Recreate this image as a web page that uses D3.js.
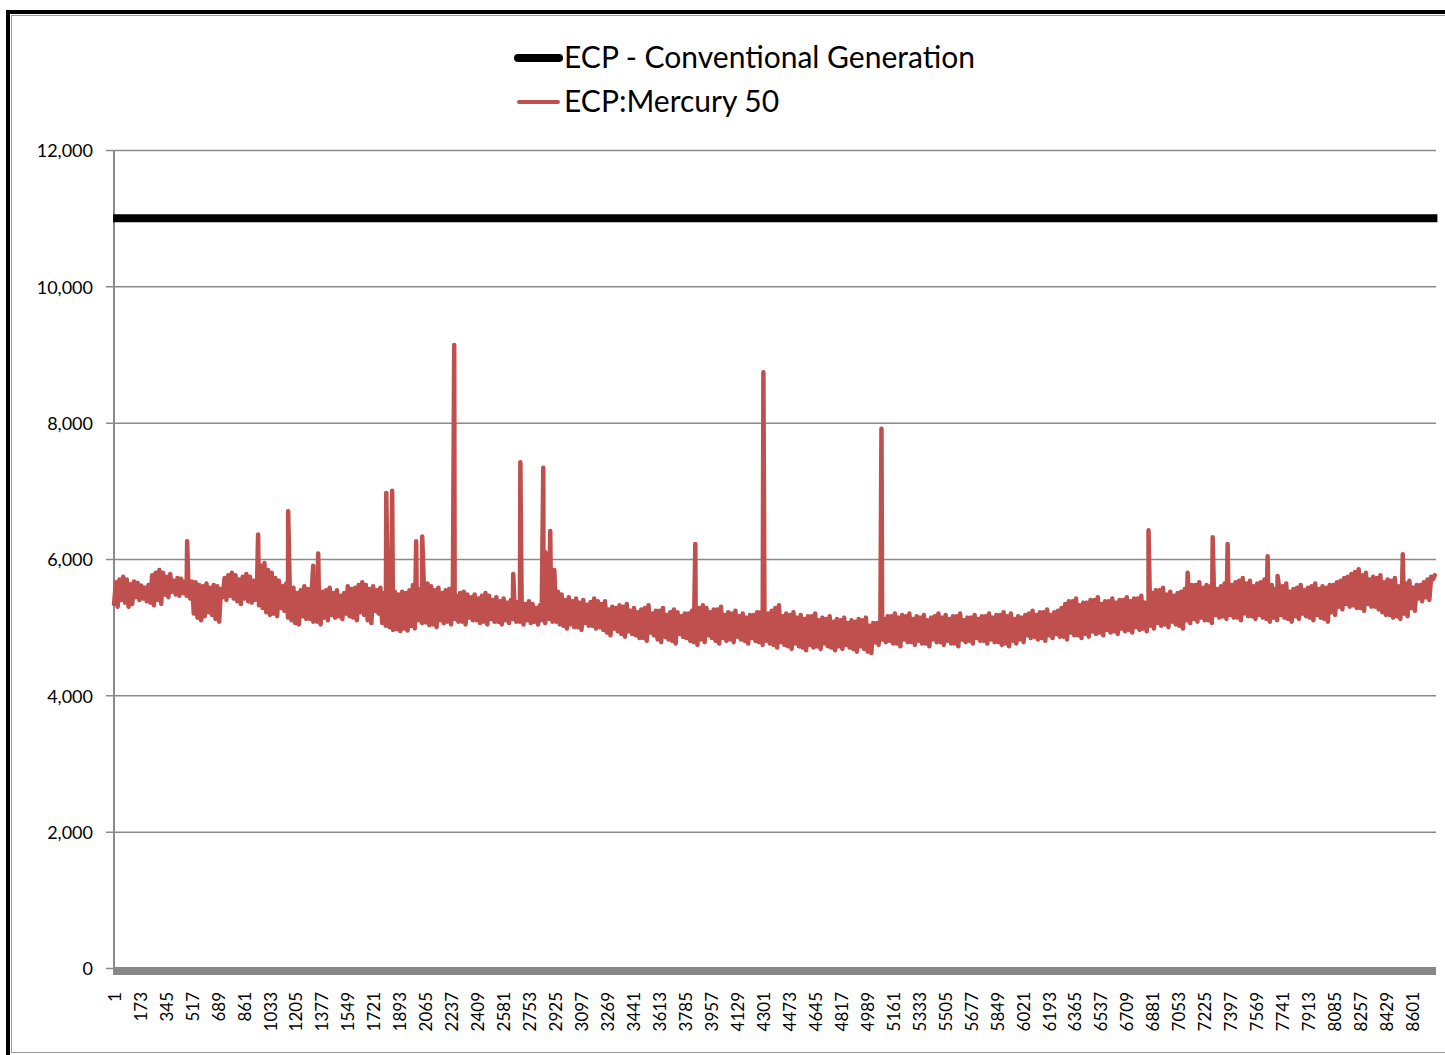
<!DOCTYPE html>
<html>
<head>
<meta charset="utf-8">
<script src="https://cdn.jsdelivr.net/npm/d3@7"></script>
<style>
  body { margin: 0; background: #fff; }
  svg { display: block; font-family: Lato, "Open Sans", sans-serif; }
</style>
</head>
<body>
<svg id="chart" width="1445" height="1055"></svg>
<script>
var width = 1445;
var height = 1055;

// legend names
var seriesNames = ["ECP - Conventional Generation", "ECP:Mercury 50"];

// flat conventional generation level
var conventionalMW = 11000;

// Mercury 50: one overnight low and one daytime high per day (365 days)
var lowMW = [
  5340, 5300, 5400, 5360, 5300, 5340, 5440, 5400, 5420, 5380,
  5360, 5320, 5400, 5340, 5480, 5440, 5520, 5480, 5460, 5500,
  5460, 5420, 5200, 5140, 5100, 5160, 5220, 5180, 5120, 5080,
  5440, 5400, 5460, 5420, 5380, 5340, 5420, 5380, 5360, 5400,
  5320, 5280, 5220, 5180, 5200, 5160, 5280, 5240, 5140, 5100,
  5060, 5040, 5160, 5120, 5120, 5080, 5080, 5040, 5140, 5100,
  5180, 5140, 5160, 5120, 5200, 5160, 5140, 5100, 5220, 5180,
  5100, 5060, 5240, 5200, 5060, 5020, 5000, 4960, 4970, 4940,
  4980, 4950, 5020, 4980, 5100, 5060, 5070, 5030, 5040, 5000,
  5100, 5060, 5080, 5040, 5120, 5080, 5080, 5040, 5140, 5100,
  5100, 5060, 5080, 5040, 5120, 5080, 5080, 5040, 5100, 5060,
  5120, 5080, 5080, 5040, 5100, 5060, 5080, 5040, 5100, 5060,
  5120, 5080, 5080, 5040, 5020, 4980, 5040, 5000, 5000, 4960,
  5060, 5020, 5020, 4980, 5000, 4960, 4920, 4880, 4980, 4940,
  4900, 4860, 4940, 4900, 4880, 4840, 4840, 4800, 4920, 4880,
  4820, 4780, 4860, 4820, 4800, 4760, 4900, 4860, 4840, 4800,
  4780, 4740, 4820, 4780, 4880, 4840, 4800, 4760, 4840, 4800,
  4820, 4780, 4860, 4820, 4800, 4760, 4840, 4800, 4780, 4740,
  4800, 4760, 4740, 4700, 4780, 4740, 4720, 4680, 4760, 4720,
  4700, 4660, 4740, 4700, 4720, 4680, 4760, 4720, 4700, 4660,
  4720, 4680, 4740, 4700, 4680, 4640, 4720, 4680, 4640, 4620,
  4780, 4740, 4820, 4780, 4800, 4760, 4760, 4720, 4820, 4780,
  4780, 4740, 4800, 4760, 4760, 4720, 4820, 4780, 4780, 4740,
  4800, 4760, 4760, 4720, 4820, 4780, 4800, 4760, 4840, 4800,
  4800, 4760, 4820, 4780, 4780, 4740, 4760, 4720, 4800, 4760,
  4820, 4780, 4880, 4840, 4860, 4820, 4840, 4800, 4880, 4840,
  4900, 4860, 4860, 4820, 4920, 4880, 4880, 4840, 4900, 4860,
  4940, 4900, 4920, 4880, 4960, 4920, 4940, 4900, 4980, 4940,
  4960, 4920, 5000, 4960, 4980, 4940, 5020, 4980, 5060, 5020,
  5040, 5000, 5080, 5040, 5020, 4980, 5100, 5060, 5120, 5080,
  5140, 5100, 5100, 5060, 5180, 5140, 5160, 5120, 5180, 5140,
  5140, 5100, 5200, 5160, 5160, 5120, 5180, 5140, 5120, 5080,
  5140, 5100, 5180, 5140, 5120, 5080, 5160, 5120, 5200, 5160,
  5140, 5100, 5180, 5140, 5120, 5080, 5220, 5180, 5300, 5260,
  5340, 5300, 5320, 5280, 5280, 5240, 5340, 5300, 5300, 5260,
  5220, 5180, 5180, 5140, 5160, 5120, 5200, 5160, 5280, 5240,
  5420, 5380, 5440, 5400, 5700
];
var highMW = [
  5660, 5700, 5740, 5700, 5630, 5670, 5650, 5610, 5580, 5620,
  5760, 5800, 5840, 5800, 5740, 5780, 5680, 5720, 5710, 5670,
  5630, 5670, 5660, 5620, 5600, 5640, 5580, 5620, 5600, 5560,
  5720, 5760, 5800, 5760, 5700, 5740, 5780, 5740, 5680, 5720,
  5900, 5940, 5840, 5800, 5720, 5680, 5600, 5640, 5540, 5580,
  5500, 5540, 5600, 5560, 5480, 5520, 5560, 5520, 5540, 5580,
  5500, 5540, 5460, 5500, 5600, 5560, 5580, 5620, 5660, 5620,
  5560, 5600, 5540, 5580, 5500, 5540, 5560, 5520, 5480, 5520,
  5500, 5540, 5620, 5580, 5560, 5600, 5640, 5600, 5540, 5580,
  5500, 5540, 5560, 5520, 5460, 5500, 5520, 5480, 5440, 5480,
  5420, 5460, 5500, 5460, 5400, 5440, 5380, 5420, 5360, 5400,
  5330, 5370, 5300, 5340, 5380, 5340, 5280, 5320, 5760, 5800,
  5800, 5840, 5520, 5480, 5400, 5440, 5380, 5420, 5360, 5400,
  5330, 5370, 5420, 5380, 5340, 5380, 5260, 5300, 5280, 5320,
  5300, 5340, 5240, 5280, 5220, 5260, 5280, 5320, 5200, 5240,
  5240, 5280, 5180, 5220, 5260, 5220, 5160, 5200, 5200, 5240,
  5240, 5280, 5320, 5280, 5220, 5260, 5260, 5300, 5180, 5220,
  5200, 5240, 5160, 5200, 5140, 5180, 5180, 5220, 5220, 5180,
  5200, 5240, 5280, 5320, 5160, 5200, 5180, 5220, 5140, 5180,
  5120, 5160, 5160, 5200, 5100, 5140, 5120, 5160, 5080, 5120,
  5100, 5140, 5060, 5100, 5080, 5120, 5100, 5140, 5020, 5060,
  5060, 5100, 5120, 5160, 5160, 5200, 5140, 5180, 5160, 5200,
  5120, 5160, 5140, 5180, 5100, 5140, 5160, 5200, 5140, 5180,
  5120, 5160, 5160, 5200, 5100, 5140, 5140, 5180, 5120, 5160,
  5160, 5200, 5140, 5180, 5180, 5220, 5160, 5200, 5120, 5160,
  5140, 5180, 5200, 5240, 5180, 5220, 5220, 5260, 5180, 5220,
  5240, 5280, 5340, 5380, 5380, 5420, 5320, 5360, 5360, 5400,
  5400, 5440, 5340, 5380, 5380, 5420, 5360, 5400, 5400, 5440,
  5380, 5420, 5420, 5460, 5360, 5400, 5500, 5540, 5540, 5580,
  5480, 5520, 5460, 5500, 5520, 5560, 5580, 5620, 5620, 5660,
  5580, 5620, 5600, 5640, 5560, 5600, 5640, 5680, 5620, 5660,
  5680, 5720, 5640, 5680, 5600, 5640, 5660, 5700, 5580, 5620,
  5560, 5600, 5600, 5640, 5520, 5560, 5580, 5620, 5540, 5580,
  5600, 5640, 5560, 5600, 5580, 5620, 5620, 5660, 5680, 5720,
  5740, 5780, 5810, 5850, 5760, 5800, 5700, 5740, 5720, 5760,
  5660, 5700, 5680, 5720, 5600, 5640, 5640, 5680, 5580, 5620,
  5620, 5660, 5700, 5740, 5760
];

// single hour spikes
var spikeHours = [485, 955, 1154, 1320, 1353, 1804, 1843, 2002, 2042, 2254, 2645, 2692,
  2844, 2857, 2890, 3851, 4302, 5084, 6853, 7112, 7278, 7377, 7642, 7708, 8537];
var spikeMW = [6260, 6360, 6700, 5900, 6080, 6970, 7000, 6260, 6330, 9140, 5780, 7420,
  7340, 6100, 6410, 6220, 8740, 7910, 6420, 5800, 6320, 6220, 6040, 5750, 6070];

var hourCount = 8760;
var tickEvery = 172;
var yTicks = [0, 2000, 4000, 6000, 8000, 10000, 12000];

// build the hourly point list: low in the small hours, high at midday
var points = [];
lowMW.forEach(function (v, day) {
  points.push({ hour: 1 + 24 * day, mw: v });
  points.push({ hour: 13 + 24 * day, mw: highMW[day] });
});
spikeHours.forEach(function (h, i) {
  points.push({ hour: h, mw: spikeMW[i] });
});
points.sort(function (a, b) { return a.hour - b.hour; });

var xScale = d3.scaleLinear().domain([0.5, hourCount + 0.5]).range([114, 1436.5]);
var yScale = d3.scaleLinear().domain([0, 12000]).range([968, 150]);

var svg = d3.select("#chart");

// frame
svg.append("line").attr("x1", 6).attr("x2", width).attr("y1", 12).attr("y2", 12)
  .attr("stroke", "#000").attr("stroke-width", 4);
svg.append("line").attr("x1", 8).attr("x2", 8).attr("y1", 10).attr("y2", height)
  .attr("stroke", "#000").attr("stroke-width", 4);
svg.append("line").attr("x1", 11).attr("x2", width).attr("y1", 15.5).attr("y2", 15.5)
  .attr("stroke", "#9a9a9a").attr("stroke-width", 1);
svg.append("line").attr("x1", 11.5).attr("x2", 11.5).attr("y1", 15).attr("y2", 1053)
  .attr("stroke", "#9a9a9a").attr("stroke-width", 1);
svg.append("line").attr("x1", 11).attr("x2", width).attr("y1", 1052.5).attr("y2", 1052.5)
  .attr("stroke", "#9a9a9a").attr("stroke-width", 1);

// Y AXIS with gridlines
var yAxis = d3.axisLeft(yScale)
  .tickValues(yTicks)
  .tickSize(-(1436 - 106))
  .tickFormat(d3.format(","));
var yG = svg.append("g")
  .attr("transform", "translate(106,0)")
  .call(yAxis);
yG.select(".domain").remove();
yG.selectAll(".tick line").attr("stroke", "#8a8a8a").attr("stroke-width", 1.5);
yG.selectAll(".tick text")
  .attr("x", -13)
  .attr("dy", "0.38em")
  .attr("fill", "#000")
  .style("font-size", "18px")
  .style("font-family", "Lato, sans-serif");

svg.append("line")
  .attr("x1", 114).attr("x2", 114)
  .attr("y1", yScale(12000)).attr("y2", yScale(0))
  .attr("stroke", "#8a8a8a").attr("stroke-width", 2);

// X AXIS - thick category baseline and rotated labels
svg.append("line")
  .attr("x1", 113).attr("x2", 1436)
  .attr("y1", 971).attr("y2", 971)
  .attr("stroke", "#878787").attr("stroke-width", 8);

var xTickValues = d3.range(1, hourCount + 1, tickEvery);
var xAxis = d3.axisBottom(xScale).tickValues(xTickValues).tickSize(0).tickFormat(d3.format("d"));
var xG = svg.append("g").attr("transform", "translate(0,992)").call(xAxis);
xG.select(".domain").remove();
xG.selectAll(".tick text")
  .attr("transform", "rotate(-90)")
  .attr("x", 0)
  .attr("y", 0)
  .attr("dy", "0.36em")
  .style("text-anchor", "end")
  .attr("fill", "#000")
  .style("font-size", "17px")
  .style("font-family", "Lato, sans-serif");

// SERIES
svg.append("line")
  .attr("x1", xScale(1) - 1).attr("x2", xScale(hourCount) + 1)
  .attr("y1", yScale(conventionalMW)).attr("y2", yScale(conventionalMW))
  .attr("stroke", "#000").attr("stroke-width", 8);

var line = d3.line()
  .x(function (d) { return xScale(d.hour); })
  .y(function (d) { return yScale(d.mw); });

svg.append("path")
  .datum(points)
  .attr("d", line)
  .attr("fill", "none")
  .attr("stroke", "#C0504D")
  .attr("stroke-width", 4.5)
  .attr("stroke-linejoin", "round")
  .attr("stroke-linecap", "round");

// LEGEND
var legend = svg.append("g");
legend.append("line")
  .attr("x1", 518).attr("x2", 559).attr("y1", 58).attr("y2", 58)
  .attr("stroke", "#000").attr("stroke-width", 8).attr("stroke-linecap", "round");
legend.append("line")
  .attr("x1", 519).attr("x2", 558).attr("y1", 102).attr("y2", 102)
  .attr("stroke", "#C0504D").attr("stroke-width", 4).attr("stroke-linecap", "round");
legend.selectAll("text")
  .data(seriesNames)
  .enter()
  .append("text")
  .attr("x", 564)
  .attr("y", function (d, i) { return 68 + i * 44; })
  .style("font-size", "30px")
  .style("font-family", "Lato, sans-serif")
  .text(function (d) { return d; });
</script>
</body>
</html>
